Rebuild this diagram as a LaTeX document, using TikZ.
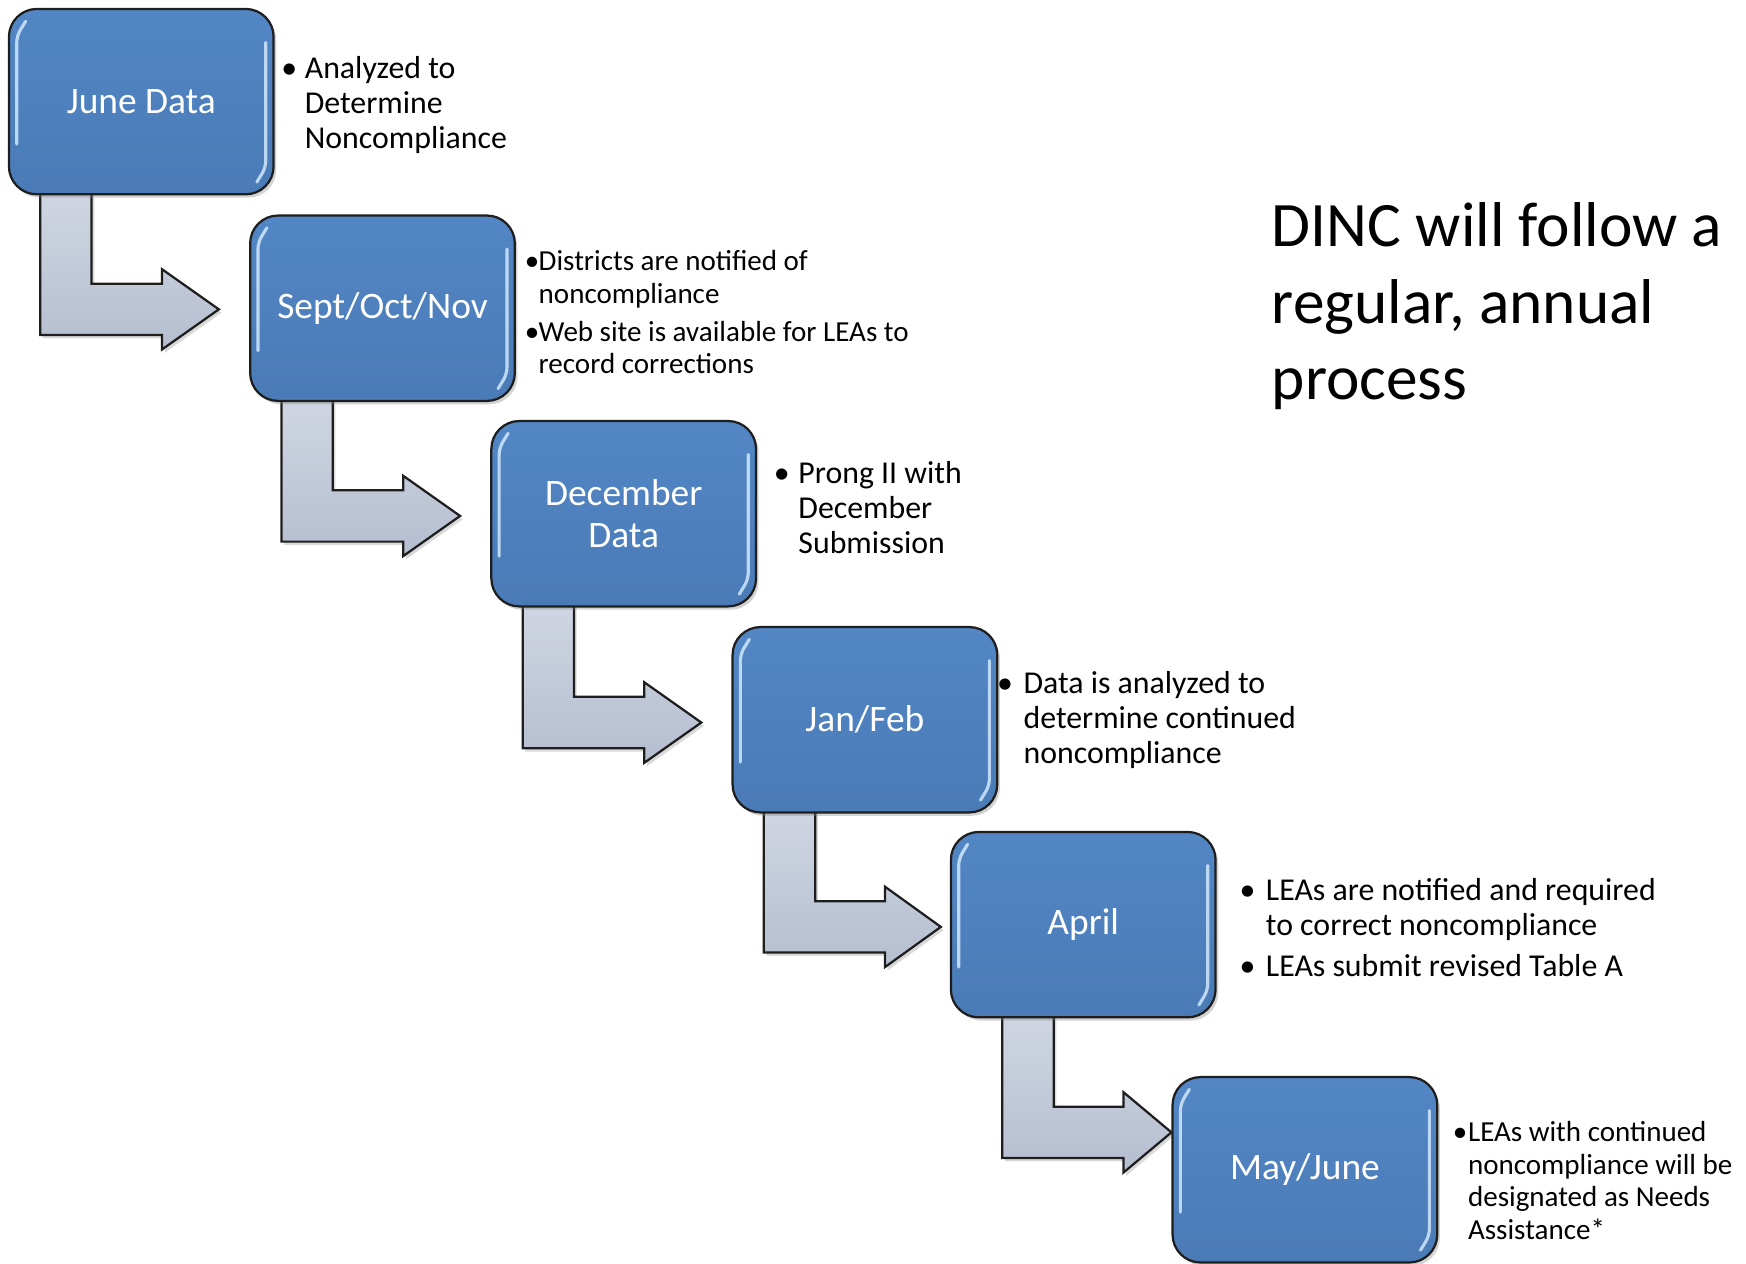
\documentclass[tikz,border=0pt]{standalone}
\usepackage{fontspec}
\setmainfont{Carlito}
\usetikzlibrary{calc,shadows}
\definecolor{boxtop}{HTML}{5286C4}
\definecolor{boxbot}{HTML}{4A7BB7}
\definecolor{edgec}{HTML}{1E1E1E}
\definecolor{arrtop}{HTML}{D0D6E2}
\definecolor{arrbot}{HTML}{B5BED0}
\definecolor{glossc}{HTML}{D8EEFF}
\pgfdeclarelayer{bg}
\pgfsetlayers{bg,main}
\newcommand\blt[1]{\makebox[#1][l]{•}}
% #1 from node, #2 to node, #3 x offset of vertical bar, #4 #5 tip offset from #2.west, #6 head length
\newcommand\bentarrow[6]{%
  \coordinate (vL) at ($(#1.south west)+(#3,-4)$);
  \coordinate (vR) at ($(vL)+(46,0)$);
  \coordinate (tp) at ($(#2.west)+(#4,#5)$);
  \coordinate (hb) at ($(tp)+(-#6,0)$);
  \coordinate (cL) at (vL|-tp);
  \coordinate (cR) at (vR|-tp);
  \begin{pgfonlayer}{bg}
  \draw[arrowbody] (vL) -- ($(cL)+(0,23)$) -- ($(hb)+(0,23)$) -- ($(hb)+(0,36)$) -- (tp)
     -- ($(hb)+(0,-36)$) -- ($(hb)+(0,-23)$) -- ($(cR)+(0,-23)$) -- (vR) -- cycle;
  \end{pgfonlayer}}
\newcommand\gloss[1]{%
  \draw[glossline] ($(#1.north west)+(15,11)$) -- ($(#1.north west)+(7,24)$) -- ($(#1.south west)+(7,-45)$);
  \draw[glossline] ($(#1.north east)+(-7,30)$) -- ($(#1.south east)+(-7,-24)$) -- ($(#1.south east)+(-15,-11)$);}
\begin{document}
\begin{tikzpicture}[x=0.5pt,y=-0.5pt,
  stepbox/.style={draw=edgec, line width=1pt, rounded corners=12.5pt,
    top color=boxtop, bottom color=boxbot,
    minimum width=118.5pt, minimum height=83pt, inner sep=0pt, outer sep=0pt,
    text=white, align=center, font=\fontsize{16.75}{18.5}\selectfont,
    drop shadow={shadow xshift=1.2pt, shadow yshift=-1.5pt, opacity=0.35}},
  arrowbody/.style={draw=edgec, line width=1pt, line join=miter,
    top color=arrtop, bottom color=arrbot,
    drop shadow={shadow xshift=1.2pt, shadow yshift=-1.5pt, opacity=0.3}},
  glossline/.style={draw=glossc, line width=1.4pt, rounded corners=3pt, opacity=0.8, line cap=round},
  txt/.style={anchor=base west, inner sep=0pt, outer sep=0pt, text=black,
    font=\fontsize{14.25}{15.75}\selectfont},
  txts/.style={txt, font=\fontsize{13}{14.5}\selectfont},
  title/.style={anchor=base west, inner sep=0pt, outer sep=0pt, text=black,
    font=\fontsize{28.35}{34.25}\selectfont}]
\useasboundingbox (0,0) rectangle (1563.5,1131);

% boxes
\node[stepbox] (b1) at (126.5,91) {June Data};
\node[stepbox] (b2) at (342.5,276) {Sept/Oct/Nov};
\node[stepbox] (b3) at (558.5,460) {December\\Data};
\node[stepbox] (b4) at (774.5,644.5) {Jan/Feb};
\node[stepbox] (b5) at (970,828) {April};
\node[stepbox] (b6) at (1168.5,1047.5) {May/June};
\foreach \b in {b1,b2,b3,b4,b5,b6} {\gloss{\b}}

% bent arrows
\bentarrow{b1}{b2}{28}{-28}{1}{51}
\bentarrow{b2}{b3}{28}{-28}{2}{51}
\bentarrow{b3}{b4}{28}{-28}{2.5}{51}
\bentarrow{b4}{b5}{28}{-9}{2}{50}
\bentarrow{b5}{b6}{46}{-1}{-33.5}{43}

% bullet texts
\node[txt] (t1) at (252,70) {\begin{tabular}[t]{@{}l@{}l@{}}\blt{10.5pt}&Analyzed to\\&Determine\\&Noncompliance\end{tabular}};
\node[txts] (t2) at (470,242.5) {\begin{tabular}[t]{@{}l@{}l@{}}\blt{6.2pt}&Districts are notified of\\&noncompliance\\[2.5pt]\blt{6.2pt}&Web site is available for LEAs to\\&record corrections\end{tabular}};
\node[txt] (t3) at (693,433) {\begin{tabular}[t]{@{}l@{}l@{}}\blt{11pt}&Prong II with\\&December\\&Submission\end{tabular}};
\node[txt] (t4) at (893,621) {\begin{tabular}[t]{@{}l@{}l@{}}\blt{11.8pt}&Data is analyzed to\\&determine continued\\&noncompliance\end{tabular}};
\node[txt] (t5) at (1110,806) {\begin{tabular}[t]{@{}l@{}l@{}}\blt{11.8pt}&LEAs are notified and required\\&to correct noncompliance\\[2.75pt]\blt{11.8pt}&LEAs submit revised Table A\end{tabular}};
\node[txts] (t6) at (1301,1022.5) {\begin{tabular}[t]{@{}l@{}l@{}}\blt{6.8pt}&LEAs with continued\\&noncompliance will be\\&designated as Needs\\&Assistance*\end{tabular}};

% title
\node[title] (ttl) at (1139,221) {\begin{tabular}[t]{@{}l@{}}DINC will follow a\\regular, annual\\process\end{tabular}};
\end{tikzpicture}
\end{document}
